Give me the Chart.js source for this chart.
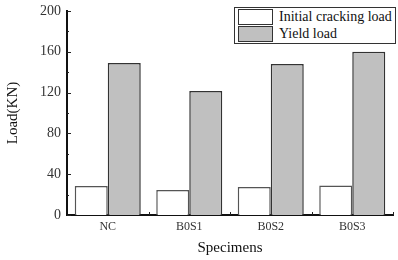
<!DOCTYPE html>
<html>
<head>
<meta charset="utf-8">
<script src="https://cdn.jsdelivr.net/npm/chart.js@4"></script>
<style>
  body { margin: 0; background: #fff; }
  #wrap { position: relative; width: 398px; height: 260px; }
  #legend {
    position: absolute; left: 234px; top: 7px; width: 160px; height: 35px;
    border: 1px solid #333; background: #fff;
    font-family: "Liberation Serif", serif; font-size: 14px; color: #111;
  }
  .item { position: absolute; left: 3px; height: 16px; line-height: 16px; }
  .sw { display: inline-block; width: 33px; height: 14px; border: 1px solid #333; vertical-align: top; margin-right: 6px; }
</style>
</head>
<body>
<div id="wrap">
  <canvas id="myChart" width="398" height="260"></canvas>
  <div id="legend">
    <div class="item" style="top:1px"><span class="sw" style="background:#fff"></span>Initial cracking load</div>
    <div class="item" style="top:18px"><span class="sw" style="background:#c0c0c0"></span>Yield load</div>
  </div>
</div>
<script>
const specimens = ['NC', 'B0S1', 'B0S2', 'B0S3'];
const crackingLoad = [28.5, 24.5, 27.5, 29];
const yieldLoad = [149, 121.5, 148, 160];
const yTicks = [0, 40, 80, 120, 160, 200];

const serif = "'Liberation Serif', serif";

// ticks pointing into the plot, like the origin style
const innerTicks = {
    id: 'innerTicks',
    afterDraw(chart) {
        const c = chart.ctx, x = chart.scales.x, y = chart.scales.y;
        c.save();
        c.strokeStyle = '#222';
        c.lineWidth = 1;
        c.beginPath();
        for (let v = 0; v <= 200; v += 20) {
            const py = Math.round(y.getPixelForValue(v)) + 0.5;
            const len = v % 40 === 0 ? 4 : 2;
            c.moveTo(y.right, py);
            c.lineTo(y.right + len, py);
        }
        for (let i = 0; i < specimens.length; i++) {
            const px = Math.round(x.getPixelForValue(i) + (x.getPixelForValue(1) - x.getPixelForValue(0)) / 2) + 0.5;
            c.moveTo(px, x.top);
            c.lineTo(px, x.top - 3);
        }
        c.stroke();
        c.restore();
    }
};

const ctx = document.getElementById('myChart').getContext('2d');
const myChart = new Chart(ctx, {
    type: 'bar',
    data: {
        labels: specimens,
        datasets: [
            { label: 'Initial cracking load', data: crackingLoad, backgroundColor: '#ffffff', borderColor: '#555', borderWidth: 1.5 },
            { label: 'Yield load', data: yieldLoad, backgroundColor: '#c0c0c0', borderColor: '#333', borderWidth: 1.5 }
        ]
    },
    options: {
        responsive: false,
        animation: false,
        layout: { padding: { top: 11, right: 5, left: 0, bottom: 0 } },
        categoryPercentage: 0.81,
        barPercentage: 1,
        plugins: { legend: { display: false }, tooltip: { enabled: false } },
        scales: {
            x: {
                grid: { display: false, drawTicks: false, tickLength: 0 },
                border: { color: '#111', width: 2 },
                ticks: { color: '#333', font: { family: serif, size: 12 }, padding: 5 },
                title: { display: true, text: 'Specimens', color: '#111', font: { family: serif, size: 15 }, padding: { top: 0, bottom: 3 } },
                afterFit(s) { s.height = 45; }
            },
            y: {
                min: 0, max: 200,
                afterBuildTicks(s) { s.ticks = yTicks.map(v => ({ value: v })); },
                grid: { display: false, drawTicks: false, tickLength: 0 },
                border: { color: '#111', width: 2 },
                ticks: { color: '#333', font: { family: serif, size: 14 }, padding: 6 },
                title: { display: true, text: 'Load(KN)', color: '#111', font: { family: serif, size: 15 } },
                afterFit(s) { s.width = 67; s.paddingTop = 0; }
            }
        }
    },
    plugins: [innerTicks]
});
</script>
</body>
</html>
